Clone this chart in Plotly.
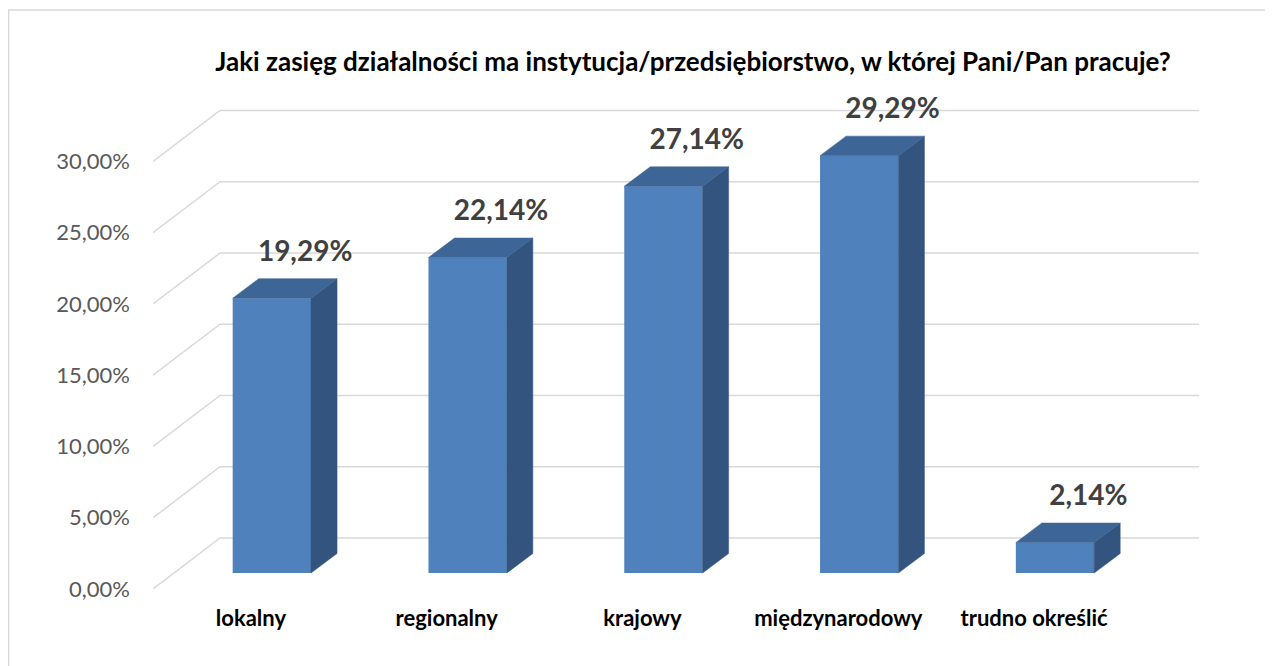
import plotly.graph_objects as go

# data
categories = ["lokalny", "regionalny", "krajowy", "międzynarodowy", "trudno określić"]
values = [19.29, 22.14, 27.14, 29.29, 2.14]
tick_values = [0, 5, 10, 15, 20, 25, 30]
tick_labels = [f"{t:.2f}%".replace(".", ",") for t in tick_values]

title = "Jaki zasięg działalności ma instytucja/przedsiębiorstwo, w której Pani/Pan pracuje?"

# fake 3D geometry (in axis units: x = category slots, y = percent)
WALL_DX, WALL_DY = 0.3425, 3.58     # back wall offset from the front floor edge
BAR_DX, BAR_DY = 0.107, 1.12        # bar front face offset
DEPTH_DX, DEPTH_DY = 0.133, 1.37    # bar depth
BAR_W = 0.4

FRONT = "#4f81bd"
TOP = "#3d6595"
SIDE = "#33547e"
GRID = "#d9d9d9"

# the page body adds an 8px margin, so the figure is shifted back by that
PAGE_OFF = 8

fig = go.Figure()

# front faces
xs = [i + BAR_DX for i in range(len(values))]
fig.add_trace(go.Bar(
    x=xs, y=values, base=BAR_DY, width=BAR_W,
    marker=dict(color=FRONT, line=dict(width=0)),
    hoverinfo="skip", showlegend=False
))

# side and top faces
side_x, side_y, top_x, top_y = [], [], [], []
for xc, v in zip(xs, values):
    xl, xr = xc - BAR_W / 2, xc + BAR_W / 2
    b, t = BAR_DY, BAR_DY + v
    side_x += [xr, xr + DEPTH_DX, xr + DEPTH_DX, xr, xr, None]
    side_y += [b, b + DEPTH_DY, t + DEPTH_DY, t, b, None]
    top_x += [xl, xl + DEPTH_DX, xr + DEPTH_DX, xr, xl, None]
    top_y += [t, t + DEPTH_DY, t + DEPTH_DY, t, t, None]

fig.add_trace(go.Scatter(x=side_x, y=side_y, mode="lines", fill="toself",
                         fillcolor=SIDE, line=dict(width=0.5, color=SIDE),
                         hoverinfo="skip", showlegend=False))
fig.add_trace(go.Scatter(x=top_x, y=top_y, mode="lines", fill="toself",
                         fillcolor=TOP, line=dict(width=0.5, color=TOP),
                         hoverinfo="skip", showlegend=False))

# data labels
fig.add_trace(go.Scatter(
    x=[x + 0.17 for x in xs],
    y=[BAR_DY + v + DEPTH_DY + 1.75 for v in values],
    mode="text",
    text=[f"{v:.2f}%".replace(".", ",") for v in values],
    textfont=dict(family="Lato", size=28, color="#404040", weight="bold"),
    cliponaxis=False, hoverinfo="skip", showlegend=False
))

# gridlines: diagonal on the side wall + horizontal on the back wall
x_left = -0.5
x_right = len(categories) - 0.5 + WALL_DX
shapes = []
for t in tick_values:
    shapes.append(dict(
        type="path", xref="x", yref="y", layer="below",
        path=f"M {x_left},{t} L {x_left + WALL_DX},{t + WALL_DY} L {x_right},{t + WALL_DY}",
        line=dict(color=GRID, width=1.5)
    ))

# chart border (light grey frame)
shapes.append(dict(
    type="rect", xref="paper", yref="paper",
    x0=-0.138, x1=1.1, y0=-0.2, y1=1.1285,
    line=dict(color=GRID, width=1.5), layer="below"
))

fig.update_layout(
    width=1273, height=666,
    margin=dict(l=153 - PAGE_OFF, r=74 + PAGE_OFF, t=76 - PAGE_OFF, b=77 + PAGE_OFF),
    paper_bgcolor="white", plot_bgcolor="white",
    separators=", ",
    shapes=shapes,
    title=dict(
        text=title, x=(693 - PAGE_OFF) / 1273, xanchor="center",
        y=1 - (62 - PAGE_OFF) / 666, yanchor="middle",
        xref="container", yref="container",
        font=dict(family="Lato", size=26, color="black", weight="bold")
    ),
    xaxis=dict(
        range=[x_left, x_right], showgrid=False, zeroline=False, showline=False,
        tickvals=list(range(len(categories))), ticktext=categories,
        tickfont=dict(family="Lato", size=22, color="black", weight="bold"),
        ticks="", ticklabelstandoff=14
    ),
    yaxis=dict(
        range=[0, 36], showgrid=False, zeroline=False, showline=False,
        tickvals=tick_values, ticktext=tick_labels,
        tickfont=dict(family="Lato", size=22, color="#595959"),
        ticks="", ticklabelstandoff=22
    ),
)

fig.write_html("out.html")
